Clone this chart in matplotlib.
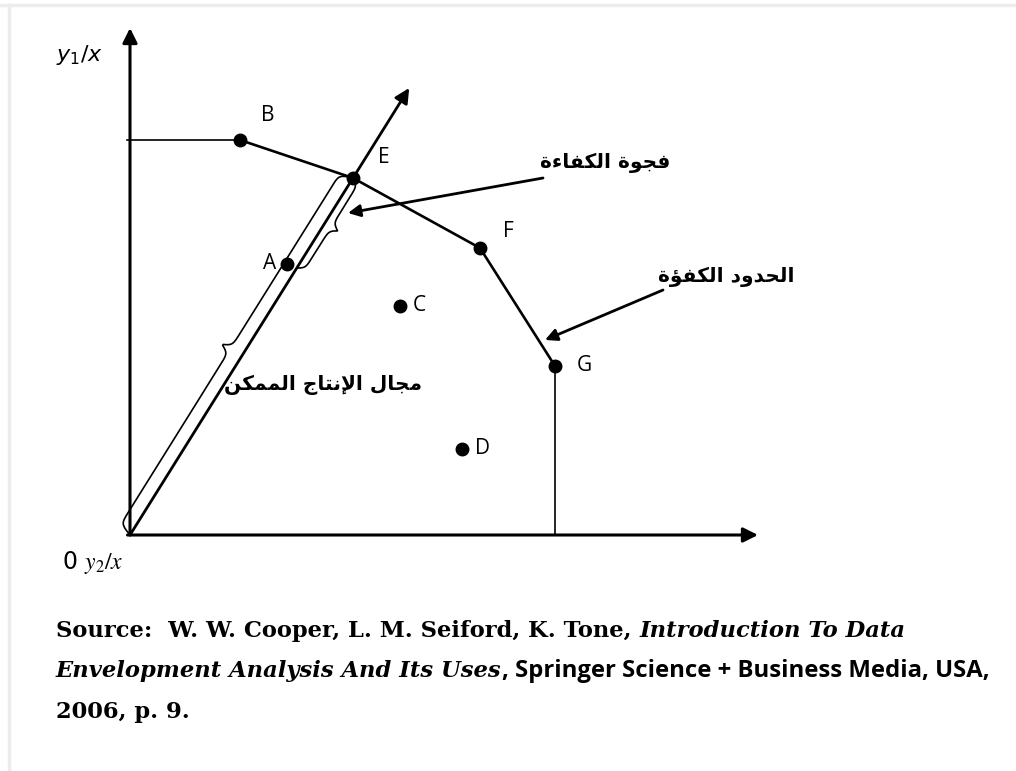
import matplotlib
matplotlib.use("Agg")
import matplotlib.pyplot as plt
from matplotlib.lines import Line2D
import numpy as np

# points of the diagram (units: ratio axes, origin at 0)
point_names = ["A", "B", "C", "D", "E", "F", "G"]
point_x = [3.14, 2.20, 5.40, 6.64, 4.46, 7.00, 8.50]
point_y = [5.42, 7.90, 4.58, 1.72, 7.14, 5.74, 3.38]
frontier = ["B", "E", "F", "G"]

# Arabic labels
gap_label = "فجوة الكفاءة"
frontier_label = "الحدود الكفؤة"
range_label = "مجال الإنتاج الممكن"

# source note: (text, font kind, style)
source_lines = [
    [("Source:  W. W. Cooper, L. M. Seiford, K. Tone, ", "serif", "normal"),
     ("Introduction To Data", "serif", "italic")],
    [("Envelopment Analysis And Its Uses", "serif", "italic"),
     (", Springer Science + Business Media, USA,", "sans", "normal")],
    [("2006, p. 9.", "serif", "normal")],
]

# --- minimal Arabic shaping (matplotlib has no shaping / bidi) ---
FORMS = {
    'ا': (0xFE8D, 0xFE8E, None, None),
    'إ': (0xFE87, 0xFE88, None, None),
    'ء': (0xFE80, None, None, None),
    'ؤ': (0xFE85, 0xFE86, None, None),
    'ة': (0xFE93, 0xFE94, None, None),
    'ت': (0xFE95, 0xFE96, 0xFE97, 0xFE98),
    'ج': (0xFE9D, 0xFE9E, 0xFE9F, 0xFEA0),
    'ح': (0xFEA1, 0xFEA2, 0xFEA3, 0xFEA4),
    'د': (0xFEA9, 0xFEAA, None, None),
    'ف': (0xFED1, 0xFED2, 0xFED3, 0xFED4),
    'ك': (0xFED9, 0xFEDA, 0xFEDB, 0xFEDC),
    'ل': (0xFEDD, 0xFEDE, 0xFEDF, 0xFEE0),
    'م': (0xFEE1, 0xFEE2, 0xFEE3, 0xFEE4),
    'ن': (0xFEE5, 0xFEE6, 0xFEE7, 0xFEE8),
    'و': (0xFEED, 0xFEEE, None, None),
}
LAM_ALEF = {'ا': (0xFEFB, 0xFEFC, None, None), 'إ': (0xFEF9, 0xFEFA, None, None)}


def shape_arabic(s):
    toks = []
    i = 0
    while i < len(s):
        c = s[i]
        if c == 'ل' and i + 1 < len(s) and s[i + 1] in LAM_ALEF:
            toks.append((c, LAM_ALEF[s[i + 1]]))
            i += 2
            continue
        toks.append((c, FORMS.get(c)))
        i += 1
    out = []
    for k, (c, f) in enumerate(toks):
        if f is None:
            out.append(c)
            continue
        prev = toks[k - 1][1] if k > 0 else None
        nxt = toks[k + 1][1] if k + 1 < len(toks) else None
        jp = prev is not None and prev[2] is not None and f[1] is not None
        jn = nxt is not None and nxt[1] is not None and f[2] is not None
        if jp and jn:
            code = f[3]
        elif jp:
            code = f[1]
        elif jn:
            code = f[2]
        else:
            code = f[0]
        out.append(chr(code))
    return "".join(out)[::-1]


def brace(p0, p1, plateau, tip, beta=22, n=400):
    p0 = np.asarray(p0, float)
    p1 = np.asarray(p1, float)
    d = p1 - p0
    L = np.hypot(*d)
    u = d / L
    nrm = np.array([-u[1], u[0]])
    s = np.linspace(0, L, n)
    half = np.minimum(s, L - s)
    off = plateau * 2 * (1 / (1 + np.exp(-beta * half)) - 0.5) \
        + 2 * (tip - plateau) / (1 + np.exp(-beta * (half - L / 2)))
    pts = p0[None, :] + s[:, None] * u[None, :] + off[:, None] * nrm[None, :]
    return pts[:, 0], pts[:, 1]


pts = {k: (x, y) for k, x, y in zip(point_names, point_x, point_y)}

fig = plt.figure(figsize=(10.16, 7.71), dpi=100)
ax = fig.add_axes([0, 0, 1, 1])
ax.set_xlim(-2.6, 17.72)
ax.set_ylim(-4.72, 10.7)
ax.axis("off")

arrow = dict(arrowstyle="-|>", color="black", lw=2.2, mutation_scale=22,
             shrinkA=0, shrinkB=0)
ax.annotate("", xy=(0, 10.14), xytext=(0, 0), arrowprops=arrow)
ax.annotate("", xy=(12.56, 0), xytext=(-0.05, 0), arrowprops=arrow)

# ray from origin through E
ex, ey = pts["E"]
ax.annotate("", xy=(ex * 1.252, ey * 1.252), xytext=(0, 0),
            arrowprops=dict(arrow, lw=2.0))

# frontier
bx, by = pts["B"]
gx, gy = pts["G"]
ax.plot([-0.06, bx], [by, by], color="black", lw=1.2)
ax.plot([pts[k][0] for k in frontier], [pts[k][1] for k in frontier],
        color="black", lw=1.9)
ax.plot([gx, gx], [gy, 0], color="black", lw=1.2)

for name in point_names:
    x, y = pts[name]
    ax.plot(x, y, "o", color="black", ms=9)

label_off = {"A": (-17, 0), "B": (28, 24), "C": (19, 0), "D": (21, 0),
             "E": (31, 20), "F": (28, 16), "G": (29, 0)}
for name in point_names:
    ax.annotate(name, pts[name], xytext=label_off[name], textcoords="offset pixels",
                ha="center", va="center", fontsize=15, family="Open Sans")

# braces
bxs, bys = brace((0, 0), (ex, ey), 0.27, 0.46)
ax.plot(bxs, bys, color="black", lw=1.2)
gap_end = 0.748
sxs, sys_ = brace((ex, ey), (ex * gap_end, ey * gap_end), 0.15, 0.30)
ax.plot(sxs, sys_, color="black", lw=1.2)

# arabic texts and pointers
ar = dict(fontsize=14.5, fontweight="bold", family="DejaVu Sans",
          ha="center", va="center")
ax.text(9.5, 7.44, shape_arabic(gap_label), **ar)
ax.text(11.92, 5.16, shape_arabic(frontier_label), **ar)
ax.text(3.86, 3.0, shape_arabic(range_label), **ar)
pointer = dict(arrowstyle="-|>", color="black", lw=2.0, mutation_scale=18,
               shrinkA=0, shrinkB=0)
ax.annotate("", xy=(4.36, 6.44), xytext=(8.26, 7.14), arrowprops=pointer)
ax.annotate("", xy=(8.3, 3.9), xytext=(10.66, 4.9), arrowprops=pointer)

# axis labels
ax.text(-1.0, 9.6, r"$y_1/x$", fontsize=16, ha="center", va="center",
        math_fontfamily="dejavusans")
ax.text(-1.35, -0.54, r"0 $y_2/x$", fontsize=17, ha="left", va="center",
        math_fontfamily="stix", family="DejaVu Sans")

# source note, pieces placed one after another
fig.canvas.draw()
renderer = fig.canvas.get_renderer()
fonts = {"serif": ("DejaVu Serif", 16.3), "sans": ("Open Sans", 17.2)}
baselines = [637, 677, 718]
for line, base in zip(source_lines, baselines):
    x = 56
    for txt, kind, style in line:
        fam, size = fonts[kind]
        t = fig.text(x / 1016, 1 - base / 771, txt, family=fam, style=style,
                     fontweight="bold", fontsize=size, va="baseline", ha="left")
        x += t.get_window_extent(renderer).width

# faint page frame
fig.add_artist(Line2D([0, 1], [1 - 5 / 771, 1 - 5 / 771], transform=fig.transFigure,
                      color="#ececec", lw=2.5))
fig.add_artist(Line2D([9 / 1016, 9 / 1016], [0, 1 - 5 / 771], transform=fig.transFigure,
                      color="#ececec", lw=2.5))

fig.savefig("out.png", dpi=100)
